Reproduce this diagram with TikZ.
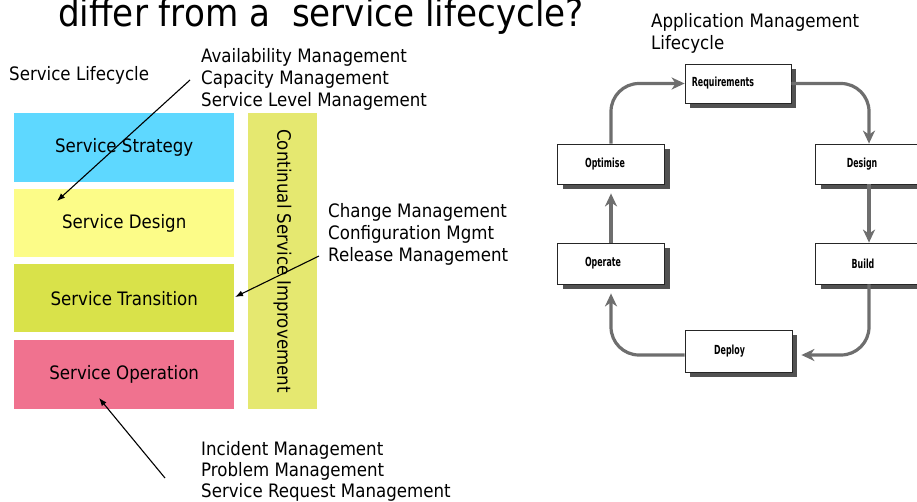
\documentclass[tikz,border=0pt]{standalone}
\usepackage{fontspec}
\setmainfont{DejaVu Sans}[FakeStretch=0.9]
\newfontfamily\condfont{DejaVu Sans}[FakeStretch=0.63]
\usetikzlibrary{arrows.meta,shadows}
\definecolor{cstrat}{HTML}{5ED8FF}
\definecolor{cdes}{HTML}{FCFC88}
\definecolor{ctrans}{HTML}{D9E24A}
\definecolor{coper}{HTML}{F0728F}
\definecolor{ccsi}{HTML}{E5E870}
\definecolor{garr}{HTML}{6E6E6E}
\tikzset{
  lbox/.style={inner sep=0pt, minimum width=220pt, minimum height=69pt, anchor=north west,
    font=\fontsize{18.5}{22}\selectfont},
  lbl/.style={inner sep=0pt, anchor=base west, font=\fontsize{18.5}{22}\selectfont},
  abox/.style={draw=black!85, line width=0.8pt, fill=white, minimum width=107pt, minimum height=40pt,
    inner sep=0pt, font=\condfont\bfseries\fontsize{12.5}{14}\selectfont,
    drop shadow={shadow xshift=5pt, shadow yshift=-5pt, fill=black!68, opacity=1}},
  garrow/.style={draw=garr, line width=3.2pt, rounded corners=28pt,
    -{Stealth[length=13pt,width=12pt,inset=4pt]}},
  barrow/.style={draw=black, line width=1.1pt, -{Latex[length=8pt,width=6pt]}}
}
\begin{document}
\begin{tikzpicture}[x=1pt,y=-1pt]
\useasboundingbox (0,0) rectangle (917,501);
% title
\node[inner sep=0pt, anchor=base west, font=\fontsize{38}{40}\selectfont] (title) at (58,26) {differ from a~~service lifecycle?};
% left column
\node[lbl] (sl) at (9,80) {Service Lifecycle};
\node[lbox, fill=cstrat] (strat) at (14,113) {Service Strategy};
\node[lbox, fill=cdes, minimum height=68pt] (design) at (14,189) {Service Design};
\node[lbox, fill=ctrans, minimum height=68pt] (trans) at (14,264) {Service Transition};
\node[lbox, fill=coper] (oper) at (14,340) {Service Operation};
\node[fill=ccsi, rotate=-90, inner sep=0pt, minimum width=296pt, minimum height=69pt,
  font=\fontsize{18.5}{22}\selectfont] (csi) at (282.5,261) {Continual Service Improvement};
% labels
\node[lbl] (av1) at (201,62) {Availability Management};
\node[lbl] (av2) at (201,84) {Capacity Management};
\node[lbl] (av3) at (201,106) {Service Level Management};
\node[lbl] (ch1) at (328,217) {Change Management};
\node[lbl] (ch2) at (328,239) {Configuration Mgmt};
\node[lbl] (ch3) at (328,261) {Release Management};
\node[lbl] (in1) at (201,455) {Incident Management};
\node[lbl] (in2) at (201,476) {Problem Management};
\node[lbl] (in3) at (201,497) {Service Request Management};
% black arrows
\coordinate (a1s) at (190,80);
\coordinate (a1e) at (57,201);
\coordinate (a2s) at (319,256);
\coordinate (a2e) at (235,297);
\coordinate (a3s) at (165,478);
\coordinate (a3e) at (99,398);
\draw[barrow] (a1s) -- (a1e);
\draw[barrow] (a2s) -- (a2e);
\draw[barrow] (a3s) -- (a3e);
% right side
\node[lbl] (am1) at (651,27) {Application Management};
\node[lbl] (am2) at (651,49) {Lifecycle};
\node[abox, minimum width=106pt, minimum height=39pt] (req) at (738,83.5) {Requirements\kern30pt};
\node[abox] (opt) at (611,164) {Optimise\kern12pt};
\node[abox] (des) at (869,164) {Design\kern14pt};
\node[abox, minimum height=41pt] (ope) at (611,263.5) {Operate\kern16pt};
\node[abox, minimum height=41pt] (bld) at (869,263.5) {Build\kern12pt};
\node[abox, minimum height=42pt] (dep) at (738.5,351) {Deploy\kern18pt};
\draw[garrow] (opt.north) |- (req.west);
\draw[garrow] (req.east) -| (des.north);
\draw[garrow] (des.south) -- (bld.north);
\draw[garrow] (bld.south) |- ([xshift=9pt,yshift=-4pt]dep.east);
\draw[garrow] ([yshift=-4pt]dep.west) -| ([yshift=-9pt]ope.south);
\draw[garrow] (ope.north) -- ([yshift=-9pt]opt.south);
\end{tikzpicture}
\end{document}
